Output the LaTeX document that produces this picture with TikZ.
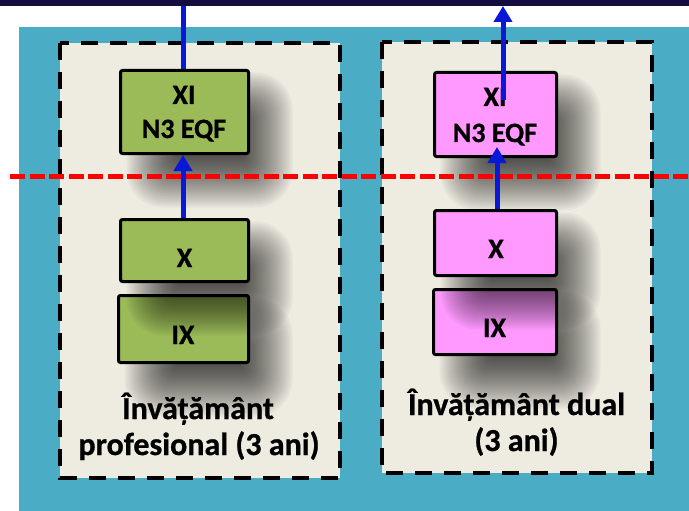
\documentclass[tikz,border=0pt]{standalone}
\usepackage{fontspec}
\setmainfont{Carlito}[BoldFeatures={FakeBold=0.8}]
\usetikzlibrary{arrows.meta}
\definecolor{cTeal}{HTML}{4BACC6}
\definecolor{cPanel}{HTML}{EEECE1}
\definecolor{cGreen}{HTML}{9BBB59}
\definecolor{cPink}{HTML}{FF99FF}
\definecolor{cBlue}{RGB}{8,24,214}
\definecolor{cNavy}{RGB}{20,14,64}
\newcommand\shbox[6]{%
  \foreach \s [evaluate=\s as \rc using {(\s+27)*0.7}] in {-26,-24,...,26}{%
    \fill[black,fill opacity=0.034,rounded corners=\rc pt] ({#3-#5/2+32-\s},{#4-#6/2+28-\s}) rectangle ({#3+#5/2+18+\s},{#4+#6/2+28+\s});
  }
  \node[#2, minimum width=#5pt, minimum height=#6pt] (#1) at (#3,#4) {};
}
\begin{document}
\begin{tikzpicture}[x=1pt,y=-1pt,
  panel/.style={fill=cPanel, draw=black, line width=4pt, dash pattern=on 17pt off 12pt},
  gbox/.style={fill=cGreen, draw=black, line width=3pt, rounded corners=2pt, inner sep=0pt},
  pbox/.style={fill=cPink, draw=black, line width=3pt, rounded corners=2pt, inner sep=0pt},
  boxtxt/.style={font=\bfseries\fontsize{28}{33}\selectfont, anchor=base, inner sep=0pt},
  lbl/.style={font=\bfseries\fontsize{32}{36}\selectfont, anchor=base, inner sep=0pt},
  flow/.style={draw=cBlue, line width=5pt, -{Triangle[width=18pt,length=16pt]}},
  plainflow/.style={draw=cBlue, line width=5pt},
  cut/.style={draw=red, line width=5pt, dash pattern=on 15pt off 4.5pt}]
\useasboundingbox (0,0) rectangle (689,511);
\fill[white] (0,0) rectangle (689,511);
\fill[cTeal] (19,27) rectangle (689,511);
% panels
\draw[panel] (60,43) rectangle (340,478);
\draw[panel] (382,42) rectangle (652,473);
% left column boxes
\shbox{gIX}{gbox}{183.5}{329}{130}{67}
\shbox{gX}{gbox}{184.5}{250.5}{128}{62}
\shbox{gXI}{gbox}{184.5}{112}{128}{83}
% right column boxes
\shbox{pIX}{pbox}{495}{322}{123}{65}
\shbox{pX}{pbox}{495.5}{243}{122}{65}
\shbox{pXI}{pbox}{495.5}{114.5}{122}{84}
% box texts
\node[boxtxt] (gXIa) at (184,104) {XI};
\node[boxtxt] (gXIb) at (184,138) {N3 EQF};
\node[boxtxt] (gXt) at (184.5,267) {X};
\node[boxtxt] (gIXt) at (183,344) {IX};
\node[boxtxt] (pXIa) at (495,106) {XI};
\node[boxtxt] (pXIb) at (495,142) {N3 EQF};
\node[boxtxt] (pXt) at (496,258) {X};
\node[boxtxt] (pIXt) at (494.5,337) {IX};
% panel labels
\node[lbl] (lblA1) at (198,419) {Învățământ};
\node[lbl] (lblA2) at (199,455) {profesional (3 ani)};
\node[lbl] (lblB1) at (516.5,415) {Învățământ dual};
\node[lbl] (lblB2) at (516.5,451) {(3 ani)};
% red cut line
\coordinate (cutL) at (10,176);
\coordinate (cutR) at (689,176);
\draw[cut] (cutL) -- (cutR);
% blue arrows
\coordinate (gTop) at (183,0);
\draw[plainflow] (gXI.north -| gTop) -- (gTop);
\coordinate (gTip) at (183,155);
\draw[flow] (gX.north -| gTip) -- (gTip);
\coordinate (pIn) at (503,100);
\coordinate (pOut) at (503,6);
\draw[flow] (pIn) -- (pOut);
\coordinate (pTip) at (497,147);
\draw[flow] (pX.north -| pTip) -- (pTip);
% top strip
\fill[cNavy] (0,0) rectangle (689,6);
\end{tikzpicture}
\end{document}
